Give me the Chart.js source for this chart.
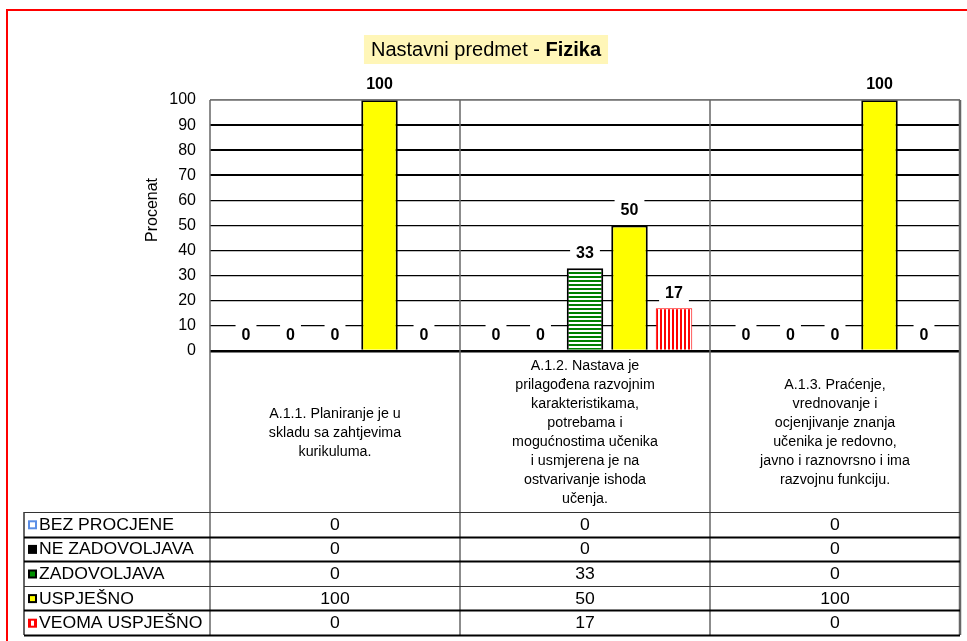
<!DOCTYPE html>
<html>
<head>
<meta charset="utf-8">
<title>Nastavni predmet - Fizika</title>
<script src="https://cdn.jsdelivr.net/npm/chart.js@4.4.1/dist/chart.umd.min.js"></script>
<style>
  html, body { margin: 0; padding: 0; background: #fff; overflow: hidden; }
  #wrap { position: relative; width: 967px; height: 641px; }
  #frame { position: absolute; left: 6px; top: 9px; width: 1000px; height: 700px; border: 2px solid #ff0000; }
  #myChart { position: absolute; left: 0; top: 0; }
</style>
</head>
<body>
<div id="wrap">
  <div id="frame"></div>
  <canvas id="myChart" width="967" height="641"></canvas>
</div>
<script>
// categories (each one is already split into lines, like in the source table)
const categories = [
  ['A.1.1. Planiranje je u', 'skladu sa zahtjevima', 'kurikuluma.'],
  ['A.1.2. Nastava je', 'prilagođena razvojnim', 'karakteristikama,', 'potrebama i',
   'mogućnostima učenika', 'i usmjerena je na', 'ostvarivanje ishoda', 'učenja.'],
  ['A.1.3. Praćenje,', 'vrednovanje i', 'ocjenjivanje znanja', 'učenika je redovno,',
   'javno i raznovrsno i ima', 'razvojnu funkciju.']
];

const seriesNames = ['BEZ PROCJENE', 'NE ZADOVOLJAVA', 'ZADOVOLJAVA', 'USPJEŠNO', 'VEOMA USPJEŠNO'];

const bezProcjene   = [0, 0, 0];
const neZadovoljava = [0, 0, 0];
const zadovoljava   = [0, 33, 0];
const uspjesno      = [100, 50, 100];
const veomaUspjesno = [0, 17, 0];

const yTicks = [0, 10, 20, 30, 40, 50, 60, 70, 80, 90, 100];

const titleText = 'Nastavni predmet - ';
const titleBold = 'Fizika';
const yTitle = 'Procenat';

const FONT = '"Liberation Sans", Arial, sans-serif';

// striped fills like the excel patterns
function stripes(color, vertical) {
  const c = document.createElement('canvas');
  c.width = 4; c.height = 4;
  const g = c.getContext('2d');
  g.fillStyle = '#fff';
  g.fillRect(0, 0, 4, 4);
  g.fillStyle = color;
  if (vertical) g.fillRect(0, 0, 2, 4); else g.fillRect(0, 0, 4, 2);
  return g.createPattern(c, 'repeat');
}

const seriesData = [bezProcjene, neZadovoljava, zadovoljava, uspjesno, veomaUspjesno];
const fills = ['#ffffff', '#000000', stripes('#008000', false), '#ffff00', stripes('#ff0000', true)];
const borders = ['#5b8ee6', '#000000', '#000000', '#000000', '#ff0000'];
const borderWidths = [1, 1, 2, 2, 1];

// text squeezed or stretched sideways (the source picture is a bit stretched)
function textX(ctx, str, x, y, sx) {
  ctx.save();
  ctx.translate(x, y);
  ctx.scale(sx, 1);
  ctx.fillText(str, 0, 0);
  ctx.restore();
}

// little swatches in front of the row names
function drawSwatch(ctx, i, x, y) {
  const s = 9;
  ctx.save();
  if (i === 0) {
    ctx.fillStyle = '#5b8ee6'; ctx.fillRect(x, y, s, s);
    ctx.fillStyle = '#fff'; ctx.fillRect(x + 2, y + 2, s - 4, s - 4);
  } else if (i === 1) {
    ctx.fillStyle = '#000'; ctx.fillRect(x, y, s, s);
  } else if (i === 2) {
    ctx.fillStyle = '#000'; ctx.fillRect(x, y, s, s);
    ctx.fillStyle = '#009000'; ctx.fillRect(x + 2, y + 2, s - 4, s - 4);
  } else if (i === 3) {
    ctx.fillStyle = '#000'; ctx.fillRect(x, y, s, s);
    ctx.fillStyle = '#ffff00'; ctx.fillRect(x + 2, y + 2, s - 4, s - 4);
  } else {
    ctx.fillStyle = '#ff0000'; ctx.fillRect(x, y, s, s);
    ctx.fillStyle = '#fff'; ctx.fillRect(x + 3, y + 2, s - 6, s - 4);
  }
  ctx.restore();
}

// value labels on white boxes above each bar
const valueLabels = {
  id: 'valueLabels',
  afterDatasetsDraw(chart) {
    const ctx = chart.ctx;
    ctx.save();
    ctx.font = 'bold 16px ' + FONT;
    ctx.textAlign = 'center';
    ctx.textBaseline = 'middle';
    chart.data.datasets.forEach((ds, i) => {
      chart.getDatasetMeta(i).data.forEach((bar, j) => {
        const txt = String(ds.data[j]);
        const y = bar.y - 16;
        const w = ctx.measureText(txt).width + 12;
        ctx.fillStyle = '#fff';
        ctx.fillRect(bar.x - w / 2, y - 10, w, 20);
        ctx.fillStyle = '#000';
        ctx.fillText(txt, bar.x, y + 1);
      });
    });
    ctx.restore();
  }
};

// title, axis title, plot frame and the data table under the chart
const extras = {
  id: 'extras',
  afterDraw(chart) {
    const { ctx, chartArea: a, scales: { x } } = chart;
    ctx.save();

    // title with yellow box
    ctx.font = '20px ' + FONT;
    const w1 = ctx.measureText(titleText).width;
    ctx.font = 'bold 20px ' + FONT;
    const w2 = ctx.measureText(titleBold).width;
    const cx = 486, cy = 50;
    const tw = w1 + w2;
    ctx.fillStyle = '#fff6b8';
    ctx.fillRect(cx - tw / 2 - 7, 35, tw + 14, 29);
    ctx.fillStyle = '#000';
    ctx.textBaseline = 'middle';
    ctx.textAlign = 'left';
    ctx.font = '20px ' + FONT;
    ctx.fillText(titleText, cx - tw / 2, cy);
    ctx.font = 'bold 20px ' + FONT;
    ctx.fillText(titleBold, cx - tw / 2 + w1, cy);

    // y axis title
    ctx.save();
    ctx.translate(153, 210);
    ctx.rotate(-Math.PI / 2);
    ctx.font = '16px ' + FONT;
    ctx.textAlign = 'center';
    ctx.fillText(yTitle, 0, 0);
    ctx.restore();

    // column bounds
    const n = categories.length;
    const bounds = [a.left];
    for (let i = 0; i < n - 1; i++) {
      bounds.push((x.getPixelForValue(i) + x.getPixelForValue(i + 1)) / 2);
    }
    bounds.push(a.right);

    const rowTop = 512, rowH = 24.6, tableLeft = 24;
    const tableBottom = rowTop + rowH * seriesNames.length;

    // plot frame top
    ctx.strokeStyle = '#777';
    ctx.lineWidth = 1.5;
    ctx.beginPath();
    ctx.moveTo(a.left, a.top); ctx.lineTo(a.right, a.top);
    ctx.stroke();

    // vertical lines
    bounds.forEach((bx, i) => {
      ctx.strokeStyle = '#666';
      ctx.lineWidth = (i === bounds.length - 1) ? 2.5 : 1.5;
      ctx.beginPath();
      ctx.moveTo(bx, a.top);
      ctx.lineTo(bx, tableBottom);
      ctx.stroke();
    });
    ctx.strokeStyle = '#333';
    ctx.lineWidth = 1.5;
    ctx.beginPath();
    ctx.moveTo(tableLeft, rowTop); ctx.lineTo(tableLeft, tableBottom);
    ctx.stroke();

    // horizontal row lines
    const rowLineW = [1, 2, 2, 1, 2, 2];
    for (let r = 0; r <= seriesNames.length; r++) {
      const yy = Math.round(rowTop + r * rowH) + 0.5;
      ctx.strokeStyle = rowLineW[r] > 1 ? '#000' : '#333';
      ctx.lineWidth = rowLineW[r];
      ctx.beginPath();
      ctx.moveTo(tableLeft, yy); ctx.lineTo(a.right, yy);
      ctx.stroke();
    }

    // category headers
    ctx.fillStyle = '#000';
    ctx.textAlign = 'center';
    ctx.font = '15.5px ' + FONT;
    const headMid = (a.bottom + rowTop) / 2 + 1;
    categories.forEach((lines, i) => {
      const colX = x.getPixelForValue(i);
      const lh = 19;
      const y0 = headMid - (lines.length - 1) * lh / 2;
      lines.forEach((ln, k) => textX(ctx, ln, colX, y0 + k * lh, 0.92));
    });

    // rows
    seriesNames.forEach((name, r) => {
      const my = rowTop + r * rowH + rowH / 2 + 1;
      drawSwatch(ctx, r, 28, my - 5);
      ctx.font = '16px ' + FONT;
      ctx.textAlign = 'left';
      ctx.fillStyle = '#000';
      textX(ctx, name, 39, my, 1.1);
      ctx.textAlign = 'center';
      seriesData[r].forEach((v, i) => textX(ctx, String(v), x.getPixelForValue(i), my, 1.1));
    });

    ctx.restore();
  }
};

const data = {
  labels: categories,
  datasets: seriesNames.map((name, i) => ({
    label: name,
    data: seriesData[i],
    backgroundColor: fills[i],
    borderColor: borders[i],
    borderWidth: borderWidths[i],
    borderSkipped: 'bottom',
    categoryPercentage: 0.89,
    barPercentage: 0.82
  }))
};

const config = {
  type: 'bar',
  data: data,
  options: {
    responsive: false,
    animation: false,
    devicePixelRatio: 1,
    layout: { padding: { left: 0, right: 7, top: 100, bottom: 290 } },
    plugins: {
      legend: { display: false },
      title: { display: false },
      tooltip: { enabled: false }
    },
    scales: {
      x: { display: false },
      y: {
        min: 0,
        max: 100,
        afterFit: (s) => { s.width = 210; },
        afterBuildTicks: (s) => { s.ticks = yTicks.map(v => ({ value: v })); },
        border: { display: false },
        grid: {
          drawTicks: false,
          color: (c) => c.tick && c.tick.value === 100 ? '#777' : '#000',
          lineWidth: (c) => {
            const v = c.tick ? c.tick.value : -1;
            if (v === 0) return 2.5;
            if (v === 70 || v === 80 || v === 90) return 2;
            return 1.2;
          }
        },
        ticks: {
          color: '#000',
          padding: 14,
          font: { family: FONT, size: 16 }
        }
      }
    }
  },
  plugins: [valueLabels, extras]
};

const myChart = new Chart(document.getElementById('myChart'), config);
</script>
</body>
</html>
